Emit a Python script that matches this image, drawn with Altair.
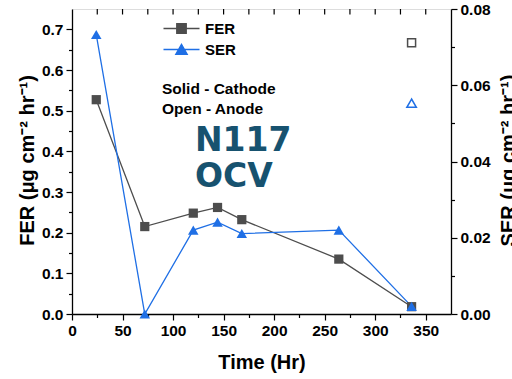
import altair as alt
import pandas as pd

# ---- data ----
time_h = [24, 72, 120, 144, 168, 264, 336]
fer_vals = [0.527, 0.215, 0.248, 0.262, 0.232, 0.135, 0.018]
ser_vals = [0.0733, 0.0, 0.0220, 0.0241, 0.0211, 0.0220, 0.0020]
anode_time = [336]
anode_fer = [0.667]
anode_ser = [0.0553]

x_major = [0, 50, 100, 150, 200, 250, 300, 350]
x_minor = [25, 75, 125, 175, 225, 275, 325]
x_top = [25, 50, 75, 100, 125, 150, 175, 200, 225, 250, 275, 300, 325, 350]
fer_major = [0.0, 0.1, 0.2, 0.3, 0.4, 0.5, 0.6, 0.7]
fer_minor = [0.05, 0.15, 0.25, 0.35, 0.45, 0.55, 0.65]
ser_major = [0.0, 0.02, 0.04, 0.06, 0.08]
ser_minor = [0.01, 0.03, 0.05, 0.07]

notes = ["Solid - Cathode", "Open - Anode"]
big_text = ["N117", "OCV"]

df = pd.DataFrame({"time": time_h, "FER": fer_vals, "SER": ser_vals,
                   "fs": ["FER"] * len(time_h), "ss": ["SER"] * len(time_h)})
df_an = pd.DataFrame({"time": anode_time, "FER": anode_fer, "SER": anode_ser})
df_top = pd.DataFrame({"v": x_top})

GRAY = "#4d4d4d"
BLUE = "#1f6fe5"
TEAL = "#17526f"
FONT = "Liberation Sans"

xs = alt.Scale(domain=[0, 375], nice=False, zero=False)
yf = alt.Scale(domain=[0, 0.75], nice=False)
ys = alt.Scale(domain=[0, 0.08], nice=False)

lab = dict(labelFont=FONT, labelFontSize=15.5, labelFontWeight="bold", labelColor="black",
           tickColor="black", domainColor="black", grid=False, labelFlush=False,
           labelOverlap=False, tickWidth=1.2, domainWidth=1.3)
ttl = dict(titleFont=FONT, titleFontSize=20, titleFontWeight="bold", titleColor="black")

x_main_axis = alt.Axis(orient="bottom", values=x_major, format="d", tickSize=6, labelPadding=3,
                       title="Time (Hr)", titleX=189.5, titleY=48, titleBaseline="middle",
                       titleAlign="center", **lab, **ttl)
x_minor_axis = alt.Axis(orient="bottom", values=x_minor, labels=False, tickSize=3.5,
                        domain=False, title=None, tickColor="black", tickWidth=1.2, grid=False)
fer_axis = alt.Axis(orient="left", values=fer_major, format=".1f", tickSize=6, labelPadding=3,
                    title="FER (μg cm⁻² hr⁻¹)", titleX=-45, titleY=151, titleAngle=270,
                    titleBaseline="middle", titleAlign="center", **lab, **ttl)
fer_minor_axis = alt.Axis(orient="left", values=fer_minor, labels=False, tickSize=3.5,
                          domain=False, title=None, tickColor="black", tickWidth=1.2, grid=False)
ser_axis = alt.Axis(orient="right", values=ser_major, format=".2f", tickSize=6, labelPadding=3,
                    title="SER (μg cm⁻² hr⁻¹)", titleX=57, titleY=151, titleAngle=270,
                    titleBaseline="middle", titleAlign="center", **lab, **ttl)
ser_minor_axis = alt.Axis(orient="right", values=ser_minor, labels=False, tickSize=3.5,
                          domain=False, title=None, tickColor="black", tickWidth=1.2, grid=False)

sq_path = "M-3.6,0H3.6M-0.95,-0.95H0.95V0.95H-0.95Z"
tri_path = "M-3.6,0H3.6M0,-1.05L1.15,0.95H-1.15Z"

leg_common = dict(title=None, orient="none", symbolSize=100, symbolStrokeWidth=1.3,
                  labelFont=FONT, labelFontSize=15, labelFontWeight="bold", labelColor="black",
                  labelOffset=16, padding=0)

base = alt.Chart(df)

fer_line = base.mark_line(color=GRAY, strokeWidth=1.3).encode(
    x=alt.X("time:Q", scale=xs, axis=x_main_axis),
    y=alt.Y("FER:Q", scale=yf, axis=fer_axis))
fer_pts = base.mark_point(filled=True, shape="square", size=85, opacity=1).encode(
    x=alt.X("time:Q", scale=xs, axis=None),
    y=alt.Y("FER:Q", scale=yf, axis=None),
    color=alt.Color("fs:N", scale=alt.Scale(domain=["FER"], range=[GRAY]),
                    legend=alt.Legend(symbolType=sq_path, symbolStrokeColor=GRAY,
                                      legendX=102, legendY=12, **leg_common)))
fer_open = alt.Chart(df_an).mark_point(shape="square", filled=False, size=64, strokeWidth=1.5,
                                       color=GRAY, opacity=1).encode(
    x=alt.X("time:Q", scale=xs, axis=None),
    y=alt.Y("FER:Q", scale=yf, axis=None))
fer_minor_l = base.mark_point(opacity=0).encode(
    x=alt.X("time:Q", scale=xs, axis=x_minor_axis),
    y=alt.Y("FER:Q", scale=yf, axis=fer_minor_axis))

ser_line = base.mark_line(color=BLUE, strokeWidth=1.3).encode(
    x=alt.X("time:Q", scale=xs, axis=None),
    y=alt.Y("SER:Q", scale=ys, axis=ser_axis))
ser_pts = base.mark_point(filled=True, shape="triangle-up", size=110, opacity=1).encode(
    x=alt.X("time:Q", scale=xs, axis=None),
    y=alt.Y("SER:Q", scale=ys, axis=None),
    color=alt.Color("ss:N", scale=alt.Scale(domain=["SER"], range=[BLUE]),
                    legend=alt.Legend(symbolType=tri_path, symbolStrokeColor=BLUE,
                                      legendX=102, legendY=33, **leg_common)))
ser_open = alt.Chart(df_an).mark_point(shape="triangle-up", filled=False, size=90, strokeWidth=1.5,
                                       color=BLUE, opacity=1).encode(
    x=alt.X("time:Q", scale=xs, axis=None),
    y=alt.Y("SER:Q", scale=ys, axis=None))
ser_minor_l = base.mark_point(opacity=0).encode(
    x=alt.X("time:Q", scale=xs, axis=None),
    y=alt.Y("SER:Q", scale=ys, axis=ser_minor_axis))

top_ticks = alt.Chart(df_top).mark_rule(color="black", strokeWidth=1.2).encode(
    x=alt.X("v:Q", scale=xs, axis=None), y=alt.value(0), y2=alt.value(5.5))

note1 = alt.Chart(pd.DataFrame({"t": [notes[0]]})).mark_text(
    font=FONT, fontSize=15.5, fontWeight="bold", color="black", align="left", baseline="middle"
).encode(text="t:N", x=alt.value(90), y=alt.value(80))
note2 = alt.Chart(pd.DataFrame({"t": [notes[1]]})).mark_text(
    font=FONT, fontSize=15.5, fontWeight="bold", color="black", align="left", baseline="middle"
).encode(text="t:N", x=alt.value(90), y=alt.value(100))
big1 = alt.Chart(pd.DataFrame({"t": [big_text[0]]})).mark_text(
    font="DejaVu Sans", fontSize=33, fontWeight="bold", color=TEAL, align="left",
    baseline="alphabetic").encode(text="t:N", x=alt.value(123), y=alt.value(142))
big2 = alt.Chart(pd.DataFrame({"t": [big_text[1]]})).mark_text(
    font="DejaVu Sans", fontSize=33, fontWeight="bold", color=TEAL, align="left",
    baseline="alphabetic").encode(text="t:N", x=alt.value(123), y=alt.value(178))

chart = alt.layer(
    fer_line, fer_minor_l, ser_line, ser_minor_l, top_ticks,
    note1, note2, big1, big2,
    fer_pts, fer_open, ser_pts, ser_open,
).resolve_scale(
    y="independent", color="independent"
).resolve_axis(
    x="independent", y="independent"
).properties(
    width=379, height=305,
    padding={"left": 72, "top": 9, "right": 61, "bottom": 65},
    autosize=alt.AutoSizeParams(type="none"),
).configure_view(
    stroke="black", strokeWidth=1.3
).configure(background="white")

chart.save("out.html", embed_options={"renderer": "svg", "actions": False})
